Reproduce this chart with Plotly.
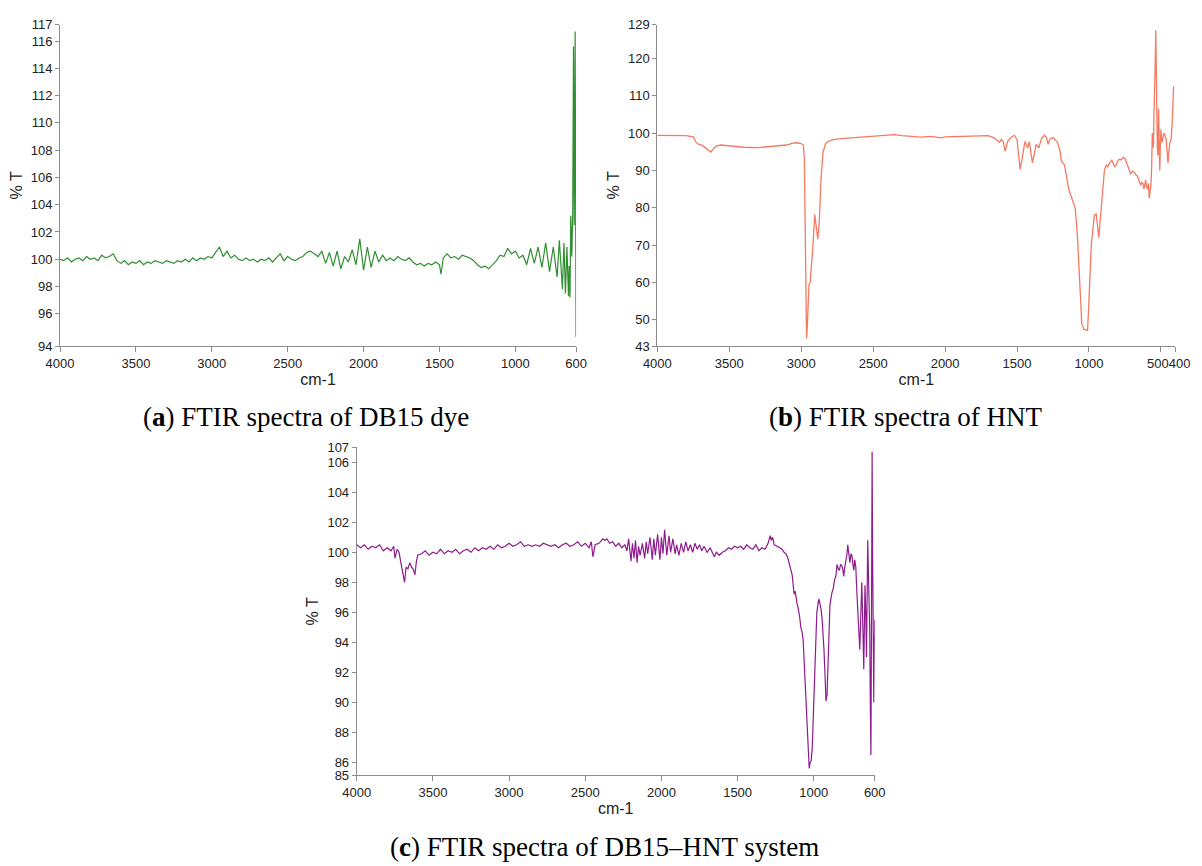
import plotly.graph_objects as go

# ---------------- data ----------------
# (a) DB15 dye
wa = [4000, 3975, 3950, 3925, 3900, 3875, 3850, 3825, 3800, 3775,
      3750, 3725, 3700, 3675, 3650, 3625, 3600, 3575, 3550, 3525,
      3500, 3475, 3450, 3425, 3400, 3375, 3350, 3325, 3300, 3275,
      3250, 3225, 3200, 3175, 3150, 3125, 3100, 3075, 3050, 3025,
      3000, 2975, 2950, 2925, 2900, 2875, 2850, 2825, 2800, 2775,
      2750, 2725, 2700, 2675, 2650, 2625, 2600, 2575, 2550, 2525,
      2500, 2475, 2450, 2425, 2400, 2375, 2350, 2325, 2300, 2275,
      2250, 2225, 2200, 2175, 2150, 2125, 2100, 2075, 2050, 2025,
      2000, 1975, 1950, 1925, 1900, 1875, 1850, 1825, 1800, 1775,
      1750, 1725, 1700, 1675, 1650, 1625, 1600, 1575, 1550, 1525,
      1500, 1490, 1475, 1450, 1425, 1400, 1375, 1350, 1325, 1300,
      1275, 1250, 1225, 1200, 1175, 1150, 1125, 1100, 1075, 1050,
      1025, 1000, 975, 950, 925, 900, 875, 850, 825, 800,
      775, 750, 725, 710, 700, 690, 680, 670, 660, 650,
      645, 640, 635, 628, 622, 617, 612, 606, 600]
ta = [100.0, 99.9, 100.1, 99.8, 100.0, 100.1, 99.9, 100.2, 100.0, 100.1,
      99.9, 100.3, 100.1, 100.2, 100.4, 99.9, 99.7, 99.9, 99.6, 99.8,
      99.7, 99.9, 99.6, 99.8, 99.7, 99.9, 99.8, 99.7, 99.9, 99.8,
      99.7, 99.9, 99.8, 100.0, 99.8, 100.1, 99.9, 100.1, 100.0, 100.2,
      100.1, 100.5, 100.9, 100.2, 100.6, 100.1, 100.3, 100.0, 99.9, 100.1,
      99.9, 100.0, 99.8, 100.0, 99.9, 100.1, 99.8, 100.1, 100.4, 99.9,
      100.2, 100.0, 99.9, 100.1, 100.2, 100.5, 100.6, 100.4, 100.2, 100.6,
      99.7, 100.5, 99.5, 100.6, 99.3, 100.2, 99.8, 100.7, 99.6, 101.5,
      99.2, 100.9, 99.4, 100.6, 99.8, 100.3, 99.9, 100.1, 99.9, 100.2,
      100.0, 99.9, 100.1, 99.8, 99.6, 99.7, 99.5, 99.7, 99.6, 99.8,
      99.6, 98.9, 100.1, 100.4, 100.1, 100.2, 100.0, 100.3, 100.2, 100.1,
      99.9, 99.6, 99.4, 99.5, 99.3, 99.6, 99.9, 100.3, 100.2, 100.8,
      100.4, 100.6, 100.1, 100.3, 99.6, 100.8, 99.7, 100.9, 99.4, 101.2,
      99.1, 100.9, 98.7, 101.4, 99.4, 97.8, 101.2, 97.5, 100.9, 97.3,
      99.5, 97.2, 103.2, 100.2, 103.4, 115.6, 102.5, 116.7, 94.3]

# (b) HNT
wb = [4000, 3900, 3800, 3750, 3730, 3715, 3700, 3680, 3660, 3640,
      3628, 3610, 3590, 3560, 3500, 3400, 3300, 3200, 3100, 3060,
      3030, 3000, 2985, 2978, 2972, 2968, 2963, 2958, 2952, 2946,
      2938, 2928, 2918, 2906, 2898, 2885, 2875, 2862, 2848, 2830,
      2800, 2768, 2700, 2600, 2500, 2400, 2352, 2300, 2200, 2169,
      2100, 2050, 2026, 2000, 1909, 1800, 1700, 1660, 1630, 1622,
      1609, 1595, 1583, 1565, 1544, 1518, 1500, 1479, 1465, 1445,
      1427, 1415, 1393, 1380, 1367, 1349, 1330, 1310, 1295, 1284,
      1270, 1250, 1235, 1219, 1200, 1193, 1170, 1141, 1115, 1096,
      1081, 1063, 1050, 1036, 1023, 1010, 1004, 997, 984, 963,
      950, 940, 932, 919, 905, 893, 880, 870, 860, 841,
      823, 810, 800, 789, 775, 763, 750, 737, 724, 711,
      698, 685, 675, 664, 652, 641, 633, 625, 618, 612,
      606, 602, 594, 587, 581, 574, 568, 564, 560, 556,
      552, 549, 544, 540, 536, 532, 529, 525, 521, 516,
      512, 508, 504, 500, 495, 490, 484, 477, 470, 464,
      457, 451, 445, 438, 430, 420, 412]
tb = [99.4, 99.3, 99.3, 99.0, 97.5, 97.0, 96.9, 96.5, 95.8, 95.2,
      94.9, 95.9, 96.5, 96.8, 96.6, 96.2, 96.1, 96.5, 96.8, 97.3,
      97.4, 97.2, 96.8, 93.0, 75.0, 55.0, 45.0, 48.0, 57.0, 59.5,
      60.0, 64.0, 70.0, 78.2, 76.0, 71.6, 76.0, 88.0, 95.0, 97.2,
      98.0, 98.3, 98.6, 98.9, 99.1, 99.3, 99.6, 99.3, 99.0, 98.9,
      99.1, 98.8, 98.7, 99.0, 99.1, 99.3, 99.3, 98.7, 97.8, 97.5,
      98.3, 97.6, 95.1, 97.8, 98.8, 99.4, 98.2, 90.3, 93.0, 97.8,
      96.0, 97.7, 92.0, 95.0, 97.0, 96.0, 98.5, 99.4, 98.8, 97.0,
      98.5, 98.8, 98.2, 97.5, 95.0, 92.5, 91.5, 85.0, 82.0, 80.0,
      73.0, 60.0, 49.0, 47.5, 47.3, 47.2, 52.0, 60.0, 70.0, 78.0,
      78.3, 75.0, 72.0, 78.0, 86.0, 90.0, 91.5, 91.0, 91.8, 92.8,
      91.0, 91.5, 92.5, 93.0, 92.8, 93.5, 93.2, 92.0, 90.5, 89.0,
      89.8, 89.5, 88.8, 88.5, 87.0, 86.0, 86.8, 86.5, 85.0, 87.0,
      87.5, 86.0, 85.0, 86.5, 82.5, 85.0, 87.0, 92.0, 100.0, 96.0,
      97.0, 104.0, 109.0, 118.0, 127.5, 110.0, 102.0, 96.0, 94.0, 106.5,
      96.0, 90.0, 97.0, 101.0, 98.0, 97.5, 99.5, 100.0, 99.0, 98.5,
      95.0, 92.0, 95.0, 97.5, 98.0, 104.0, 112.5]

# (c) DB15-HNT system
wc = [4000, 3975, 3950, 3925, 3900, 3875, 3850, 3825, 3800, 3775,
      3757, 3749, 3735, 3722, 3710, 3698, 3686, 3676, 3664, 3652,
      3640, 3630, 3618, 3608, 3600, 3575, 3550, 3525, 3500, 3475,
      3450, 3425, 3400, 3375, 3350, 3325, 3300, 3275, 3250, 3225,
      3200, 3175, 3150, 3125, 3100, 3075, 3050, 3025, 3000, 2975,
      2950, 2925, 2900, 2875, 2850, 2825, 2800, 2775, 2750, 2725,
      2700, 2675, 2650, 2625, 2600, 2575, 2550, 2525, 2500, 2475,
      2460, 2450, 2435, 2410, 2384, 2370, 2358, 2340, 2320, 2300,
      2280, 2260, 2240, 2227, 2215, 2200, 2190, 2180, 2170, 2160,
      2150, 2140, 2125, 2110, 2100, 2090, 2075, 2060, 2050, 2040,
      2025, 2010, 2000, 1990, 1979, 1965, 1950, 1940, 1925, 1910,
      1900, 1885, 1870, 1855, 1840, 1825, 1810, 1795, 1780, 1765,
      1750, 1735, 1720, 1700, 1680, 1665, 1653, 1640, 1620, 1600,
      1580, 1560, 1540, 1520, 1500, 1480, 1460, 1440, 1420, 1400,
      1380, 1360, 1340, 1320, 1300, 1286, 1278, 1270, 1260, 1240,
      1220, 1208, 1195, 1182, 1170, 1161, 1150, 1142, 1135, 1129,
      1122, 1116, 1110, 1103, 1094, 1085, 1077, 1070, 1063, 1057,
      1050, 1043, 1036, 1030, 1024, 1017, 1010, 1004, 997, 991,
      985, 980, 973, 967, 960, 952, 945, 939, 933, 926,
      920, 913, 907, 900, 894, 887, 881, 872, 863, 855,
      847, 840, 832, 824, 816, 810, 803, 797, 790, 783,
      777, 770, 763, 756, 750, 743, 737, 731, 724, 718,
      711, 705, 698, 692, 685, 680, 676, 672, 668, 664,
      659, 654, 650, 646, 640, 633, 629, 625, 621, 617,
      614, 612, 609, 606, 603, 600]
tc = [100.5, 100.3, 100.5, 100.2, 100.4, 100.3, 100.5, 100.1, 100.3, 100.1,
      100.4, 99.6, 100.2, 100.0, 99.3, 98.6, 98.0, 99.0, 98.9, 99.3,
      99.0, 98.9, 98.5, 99.4, 99.8, 99.9, 100.1, 99.8, 100.0, 99.9,
      100.2, 99.9, 100.1, 100.0, 100.2, 99.9, 100.1, 100.2, 100.0, 100.3,
      100.1, 100.3, 100.2, 100.4, 100.2, 100.5, 100.3, 100.4, 100.6, 100.4,
      100.5, 100.7, 100.4, 100.5, 100.4, 100.5, 100.4, 100.6, 100.5, 100.4,
      100.5, 100.3, 100.5, 100.6, 100.4, 100.5, 100.7, 100.4, 100.6, 100.3,
      100.7, 99.7, 100.5, 100.6, 100.9, 100.8, 100.9, 100.6, 100.7, 100.4,
      100.6, 100.3, 100.5, 100.1, 100.9, 99.4, 100.6, 99.6, 100.8, 99.3,
      100.4, 99.8, 100.6, 99.6, 100.7, 99.9, 101.0, 99.5, 100.9, 99.8,
      101.2, 99.5, 101.0, 99.9, 101.5, 99.8, 101.1, 100.0, 100.9, 99.9,
      100.5, 99.8, 100.6, 100.0, 100.7, 100.1, 100.5, 100.0, 100.6, 100.2,
      100.5, 100.1, 100.4, 100.0, 100.3, 99.9, 99.7, 100.0, 99.8, 100.0,
      100.1, 100.3, 100.2, 100.4, 100.3, 100.4, 100.2, 100.5, 100.3, 100.2,
      100.5, 100.1, 100.3, 100.2, 100.6, 101.1, 100.8, 101.0, 100.5, 100.4,
      100.3, 100.2, 100.0, 99.9, 99.6, 99.3, 98.9, 98.5, 97.8, 97.2,
      97.4, 96.9, 96.6, 96.3, 95.8, 95.0, 94.7, 94.2, 92.8, 91.5,
      89.5, 88.0, 86.6, 85.6, 86.0, 86.1, 87.0, 88.6, 91.0, 93.0,
      94.8, 96.0, 96.5, 96.9, 96.6, 96.2, 95.5, 94.6, 93.5, 91.8,
      90.1, 90.5, 92.0, 94.5, 96.5, 97.0, 97.3, 97.6, 98.2, 98.4,
      99.2, 98.9, 98.8, 99.2, 99.1, 98.9, 98.4, 99.0, 99.3, 99.8,
      100.5, 99.9, 99.3, 99.9, 99.8, 99.2, 98.8, 99.5, 99.0, 97.5,
      96.0, 95.0, 93.5, 95.5, 98.0, 96.0, 94.0, 92.2, 95.0, 97.8,
      96.0, 93.0, 97.0, 100.8, 98.0, 95.0, 90.0, 86.5, 96.0, 106.7,
      100.0, 95.5, 92.0, 90.0, 93.0, 95.5]

# axis ticks / labels
xa_ticks = [4000, 3500, 3000, 2500, 2000, 1500, 1000, 600]
xb_ticks = [4000, 3500, 3000, 2500, 2000, 1500, 1000, 500, 400]
xb_text = ["4000", "3500", "3000", "2500", "2000", "1500", "1000", "", ""]
xb_joined_label = "500400"   # the 500 and 400 labels print side by side in the original
xc_ticks = [4000, 3500, 3000, 2500, 2000, 1500, 1000, 600]
ya_range = [93.64, 117.2]
ya_ticks = [93.64, 96, 98, 100, 102, 104, 106, 108, 110, 112, 114, 116, 117.2]
ya_text = ["94", "96", "98", "100", "102", "104", "106", "108", "110", "112", "114", "116", "117"]
yb_range = [43, 129]
yb_ticks = [43, 50, 60, 70, 80, 90, 100, 110, 120, 129]
yc_range = [85.13, 107]
yc_ticks = [85.13, 86, 88, 90, 92, 94, 96, 98, 100, 102, 104, 106, 107]
yc_text = ["85", "86", "88", "90", "92", "94", "96", "98", "100", "102", "104", "106", "107"]

captions = ["(<b>a</b>) FTIR spectra of DB15 dye",
            "(<b>b</b>) FTIR spectra of HNT",
            "(<b>c</b>) FTIR spectra of DB15\u2013HNT system"]

# ---------------- figure ----------------
W, H = 1202, 866
TICKFONT = dict(family="Liberation Sans Narrow, Arial Narrow, Liberation Sans, Arial", size=13, color="#222")
TITLEFONT = dict(family="Liberation Sans Narrow, Arial Narrow, Liberation Sans, Arial", size=16, color="#222")
AXCOL = "#8c8c8c"

def px_x(a, b):
    return [a / W, b / W]

def px_y(top, bottom):
    return [1 - bottom / H, 1 - top / H]

fig = go.Figure()
fig.add_trace(go.Scatter(x=wa, y=ta, mode="lines", line=dict(color="#2f8f2f", width=1.2),
                         xaxis="x", yaxis="y", showlegend=False))
fig.add_trace(go.Scatter(x=wb, y=tb, mode="lines", line=dict(color="#f47a62", width=1.3),
                         xaxis="x2", yaxis="y2", showlegend=False))
fig.add_trace(go.Scatter(x=wc, y=tc, mode="lines", line=dict(color="#8e1a8e", width=1.2),
                         xaxis="x3", yaxis="y3", showlegend=False))

def xax(domain, rng, ticks, text, anchor):
    return dict(domain=domain, range=rng, tickvals=ticks, ticktext=text,
                tickangle=0,
                showgrid=False, zeroline=False, showline=True, linecolor=AXCOL, linewidth=1,
                ticks="outside", ticklen=5, tickcolor=AXCOL, tickfont=TICKFONT, anchor=anchor,
                title=dict(text="cm-1", font=TITLEFONT, standoff=2))

def yax(domain, rng, ticks, text, anchor):
    return dict(domain=domain, range=rng, tickvals=ticks, ticktext=text,
                showgrid=False, zeroline=False, showline=True, linecolor=AXCOL, linewidth=1,
                ticks="outside", ticklen=4, tickcolor=AXCOL, tickfont=TICKFONT, anchor=anchor,
                title=dict(text="% T", font=TITLEFONT, standoff=4))

fig.update_layout(
    width=W, height=H, margin=dict(l=0, r=0, t=0, b=0),
    paper_bgcolor="white", plot_bgcolor="white",
    xaxis=xax(px_x(47, 574), [4000, 600], xa_ticks, [str(t) for t in xa_ticks], "y"),
    yaxis=yax(px_y(18, 345), ya_range, ya_ticks, ya_text, "x"),
    xaxis2=xax(px_x(657, 1186), [4000, 400], xb_ticks, xb_text, "y2"),
    yaxis2=yax(px_y(18, 345), yb_range, yb_ticks, [str(t) for t in yb_ticks], "x2"),
    xaxis3=xax(px_x(350, 879), [4000, 600], xc_ticks, [str(t) for t in xc_ticks], "y3"),
    yaxis3=yax(px_y(448, 782), yc_range, yc_ticks, yc_text, "x3"),
)

# joined "500400" label under the last two ticks of panel (b)
fig.add_annotation(text=xb_joined_label, x=(xb_ticks[-2] + xb_ticks[-1]) / 2, xref="x2",
                   y=1 - 363 / H, yref="paper", showarrow=False, font=TICKFONT,
                   xanchor="center", yanchor="middle")

CAPFONT = dict(family="Liberation Serif, Times New Roman, serif", size=27, color="black")
cap_pos = [(298, 417), (910, 417), (603, 855)]
for text, (cx, cy) in zip(captions, cap_pos):
    fig.add_annotation(text=text, x=cx / W, y=1 - cy / H, xref="paper", yref="paper",
                       showarrow=False, font=CAPFONT, xanchor="center", yanchor="middle")

fig.write_html("out.html")
